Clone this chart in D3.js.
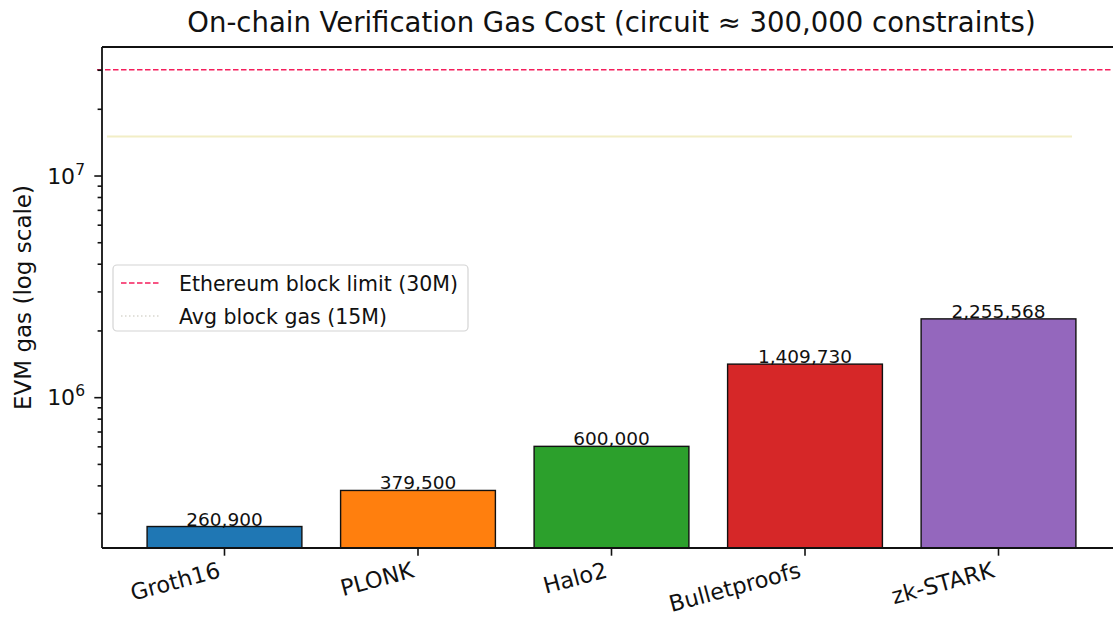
<!DOCTYPE html>
<html>
<head>
<meta charset="utf-8">
<script src="https://cdn.jsdelivr.net/npm/d3@7"></script>
<style>
  html, body { margin: 0; padding: 0; background: #ffffff; }
  svg { display: block; font-family: "DejaVu Sans", sans-serif; }
</style>
</head>
<body>
<div id="chart"></div>
<script>
// ---- data ----
const categories = ["Groth16", "PLONK", "Halo2", "Bulletproofs", "zk-STARK"];
const gasValues = [260900, 379500, 600000, 1409730, 2255568];
const barColors = ["#1f77b4", "#ff7f0e", "#2ca02c", "#d62728", "#9467bd"];
const majorTicks = [1e6, 1e7];
const majorTickExponents = ["6", "7"];
const refLineValues = [30000000, 15000000];
const refLineLabels = ["Ethereum block limit (30M)", "Avg block gas (15M)"];
const titleText = "On-chain Verification Gas Cost (circuit \u2248 300,000 constraints)";
const yLabelText = "EVM gas (log scale)";

// ---- layout ----
const W = 1113, H = 618;
const plot = { left: 102, right: 1121, top: 47, bottom: 548 };

const svg = d3.select("#chart").append("svg")
  .attr("width", W).attr("height", H);

const x = d3.scaleBand()
  .domain(categories)
  .range([plot.left, plot.right])
  .paddingInner(0.2)
  .paddingOuter(0.233);

const yMin = gasValues[0] * 0.8;
const y = d3.scaleLog()
  .domain([yMin, 38000000])
  .range([plot.bottom, plot.top]);

// reference lines
svg.append("line")
  .attr("x1", 107).attr("x2", 1072)
  .attr("y1", y(refLineValues[1])).attr("y2", y(refLineValues[1]))
  .attr("stroke", "#f2eec6").attr("stroke-width", 1.8);

svg.append("line")
  .attr("x1", 97).attr("x2", W)
  .attr("y1", y(refLineValues[0])).attr("y2", y(refLineValues[0]))
  .attr("stroke", "#f51e5c").attr("stroke-width", 1.7)
  .attr("stroke-dasharray", "5.5,2.5");

// bars
svg.append("g").selectAll("rect")
  .data(categories)
  .join("rect")
  .attr("x", d => x(d))
  .attr("width", x.bandwidth())
  .attr("y", (d, i) => y(gasValues[i]))
  .attr("height", (d, i) => plot.bottom - y(gasValues[i]))
  .attr("fill", (d, i) => barColors[i])
  .attr("stroke", "#111")
  .attr("stroke-width", 1.4);

// bar value labels
const fmt = d3.format(",");
svg.append("g").selectAll("text")
  .data(categories)
  .join("text")
  .attr("x", d => x(d) + x.bandwidth() / 2)
  .attr("y", (d, i) => y(gasValues[i]) - 1)
  .attr("text-anchor", "middle")
  .attr("font-size", 18.5)
  .attr("fill", "#111")
  .text((d, i) => fmt(gasValues[i]));

// axes spines
const spine = svg.append("g").attr("stroke", "#111").attr("stroke-width", 1.8).attr("fill", "none");
spine.append("line").attr("x1", plot.left).attr("x2", plot.left).attr("y1", plot.top).attr("y2", plot.bottom);
spine.append("line").attr("x1", plot.left).attr("x2", plot.right).attr("y1", plot.bottom).attr("y2", plot.bottom);
spine.append("line").attr("x1", plot.left).attr("x2", plot.right).attr("y1", plot.top).attr("y2", plot.top);

// y axis ticks (log) via d3 axis
const minorTicks = y.ticks().filter(v => majorTicks.indexOf(v) < 0);
const yAxisMinor = d3.axisLeft(y).tickValues(minorTicks).tickSize(4.4).tickFormat("");
const yAxisMajor = d3.axisLeft(y).tickValues(majorTicks).tickSize(7.7).tickFormat("");
const gMinor = svg.append("g").attr("transform", `translate(${plot.left},0)`).call(yAxisMinor);
const gMajor = svg.append("g").attr("transform", `translate(${plot.left},0)`).call(yAxisMajor);
[gMinor, gMajor].forEach(g => {
  g.select(".domain").remove();
  g.selectAll(".tick line").attr("stroke", "#111").attr("stroke-width", 1.6);
});

// major tick labels with superscript
const yl = svg.append("g");
majorTicks.forEach((v, i) => {
  const t = yl.append("text")
    .attr("x", 85)
    .attr("y", y(v) + 8)
    .attr("text-anchor", "end")
    .attr("font-size", 22)
    .attr("fill", "#111");
  t.append("tspan").text("10");
  t.append("tspan").attr("font-size", 15.5).attr("dy", -9).text(majorTickExponents[i]);
});

// x axis ticks
const xAxis = d3.axisBottom(x).tickSize(7.7).tickFormat("");
const gx = svg.append("g").attr("transform", `translate(0,${plot.bottom})`).call(xAxis);
gx.select(".domain").remove();
gx.selectAll(".tick line").attr("stroke", "#111").attr("stroke-width", 1.6);

// x tick labels rotated
svg.append("g").selectAll("text")
  .data(categories)
  .join("text")
  .attr("transform", d => {
    const cx = x(d) + x.bandwidth() / 2 - 3;
    return `translate(${cx},577) rotate(-15)`;
  })
  .attr("text-anchor", "end")
  .attr("font-size", 22.5)
  .attr("fill", "#111")
  .text(d => d);

// y axis label
svg.append("text")
  .attr("transform", `translate(31,${(plot.top + plot.bottom) / 2}) rotate(-90)`)
  .attr("text-anchor", "middle")
  .attr("font-size", 23)
  .attr("fill", "#111")
  .text(yLabelText);

// title
svg.append("text")
  .attr("x", (plot.left + plot.right) / 2)
  .attr("y", 32)
  .attr("text-anchor", "middle")
  .attr("font-size", 27.5)
  .attr("fill", "#111")
  .text(titleText);

// legend
const lg = svg.append("g");
lg.append("rect")
  .attr("x", 113).attr("y", 265).attr("width", 355).attr("height", 66)
  .attr("rx", 4).attr("ry", 4)
  .attr("fill", "#ffffff").attr("fill-opacity", 0.8)
  .attr("stroke", "#d4d4d4").attr("stroke-width", 1.2);
const legendStyles = [
  { stroke: "#f51e5c", dash: "5.5,2.5", width: 1.6 },
  { stroke: "#d9d7cf", dash: "1.5,2.5", width: 1.6 }
];
refLineLabels.forEach((lab, i) => {
  const cy = 283 + i * 33;
  lg.append("line")
    .attr("x1", 121).attr("x2", 161).attr("y1", cy).attr("y2", cy)
    .attr("stroke", legendStyles[i].stroke)
    .attr("stroke-width", legendStyles[i].width)
    .attr("stroke-dasharray", legendStyles[i].dash);
  lg.append("text")
    .attr("x", 179).attr("y", cy + 7.5)
    .attr("font-size", 20.5)
    .attr("fill", "#111")
    .text(lab);
});
</script>
</body>
</html>
